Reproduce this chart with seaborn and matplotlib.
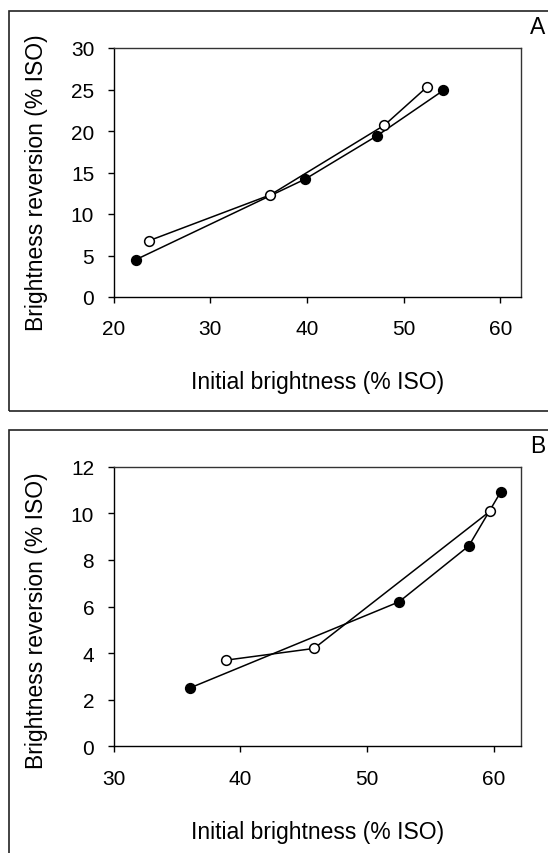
import matplotlib
matplotlib.use("Agg")
import matplotlib.pyplot as plt
import seaborn as sns
from matplotlib.patches import Rectangle

# Panel A data
a_filled_x = [22.3, 39.8, 47.2, 54.1]
a_filled_y = [4.5, 14.2, 19.4, 24.9]
a_open_x = [23.7, 36.2, 48.0, 52.4]
a_open_y = [6.8, 12.3, 20.7, 25.3]

# Panel B data
b_filled_x = [36.0, 52.5, 58.0, 60.5]
b_filled_y = [2.5, 6.2, 8.6, 10.9]
b_open_x = [38.9, 45.8, 59.7]
b_open_y = [3.7, 4.2, 10.1]

a_xticks = [20, 30, 40, 50, 60]
a_yticks = [0, 5, 10, 15, 20, 25, 30]
b_xticks = [30, 40, 50, 60]
b_yticks = [0, 2, 4, 6, 8, 10, 12]

xlabel = "Initial brightness (% ISO)"
ylabel = "Brightness reversion (% ISO)"

sns.set_style("ticks")
plt.rcParams['font.family'] = ['Liberation Sans', 'DejaVu Sans']
plt.rcParams['text.color'] = 'black'
plt.rcParams['axes.labelcolor'] = 'black'

W, H = 548, 854
fig = plt.figure(figsize=(W / 100, H / 100), dpi=100)

# axes boxes in pixels: left, top, right, bottom
ax_a = fig.add_axes([113.6 / W, 1 - 298 / H, 407.2 / W, 249 / H])
ax_b = fig.add_axes([113.6 / W, 1 - 747.3 / H, 407.2 / W, 279.6 / H])

# panel frames (right side / bottom run off the image)
fig.patches.append(Rectangle((8.7 / W, 1 - 412 / H), 1.2, 400 / H, transform=fig.transFigure,
                             fill=False, edgecolor='#222222', linewidth=1.2))
fig.patches.append(Rectangle((8.7 / W, -0.2), 1.2, 0.2 + 1 - 431 / H, transform=fig.transFigure,
                             fill=False, edgecolor='#222222', linewidth=1.2))

line_kw = dict(color='black', linewidth=1.1, marker='o', markersize=7, markeredgecolor='black',
               markeredgewidth=1.1, sort=False, estimator=None)


def draw(ax, fx, fy, ox, oy, xlim, ylim, xticks, yticks, ylab_y, xlab_y):
    sns.lineplot(x=fx, y=fy, ax=ax, markerfacecolor='black', **line_kw)
    sns.lineplot(x=ox, y=oy, ax=ax, markerfacecolor='white', **line_kw)
    ax.set_xlim(*xlim)
    ax.set_ylim(*ylim)
    ax.set_xticks(xticks)
    ax.set_yticks(yticks)
    ax.tick_params(axis='both', direction='out', length=4, width=1, labelsize=15,
                   colors='black', labelcolor='black')
    ax.tick_params(axis='x', pad=12)
    ax.tick_params(axis='y', pad=10)
    for side in ['left', 'bottom']:
        ax.spines[side].set_color('black')
        ax.spines[side].set_linewidth(1)
    for side in ['top', 'right']:
        ax.spines[side].set_color('#333333')
        ax.spines[side].set_linewidth(1)
    ax.set_xlabel(xlabel, fontsize=16.5, va='center')
    ax.set_ylabel(ylabel, fontsize=16.5, va='center')
    ax.xaxis.set_label_coords(0.5, xlab_y)
    ax.yaxis.set_label_coords(-0.189, ylab_y)


draw(ax_a, a_filled_x, a_filled_y, a_open_x, a_open_y, (20, 62.1), (0, 30),
     a_xticks, a_yticks, 0.464, -0.34)
draw(ax_b, b_filled_x, b_filled_y, b_open_x, b_open_y, (30, 62.1), (0, 12),
     b_xticks, b_yticks, 0.452, -0.303)

fig.text(538 / W, 1 - 27 / H, "A", fontsize=16.5, ha='center', va='center')
fig.text(538 / W, 1 - 447 / H, "B", fontsize=16.5, ha='center', va='center')

fig.savefig("out.png", dpi=100)
plt.close(fig)
